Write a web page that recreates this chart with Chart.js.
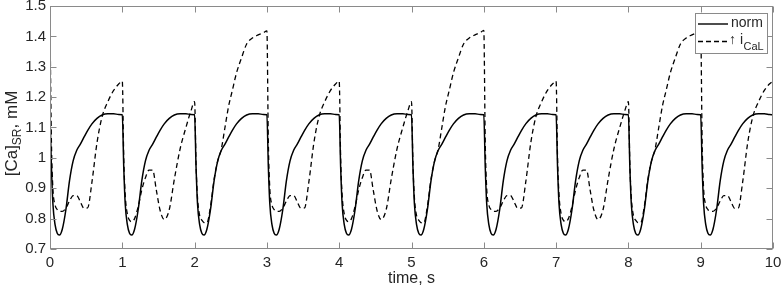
<!DOCTYPE html>
<html>
<head>
<meta charset="utf-8">
<script src="https://cdn.jsdelivr.net/npm/chart.js@4"></script>
<style>
  body { margin: 0; background: #fff; }
  #wrap { width: 782px; height: 289px; position: relative; }
</style>
</head>
<body>
<div id="wrap"><canvas id="grafik"></canvas></div>
<script>
// waktu (s), sama untuk kedua seri
const waktu = [
  0,0.02,0.04,0.07,0.1,0.13,0.17,0.22,0.27,0.32,0.37,0.42,0.47,0.52,0.58,0.65,0.72,0.8,0.88,0.95,
  1,1.02,1.04,1.07,1.1,1.13,1.17,1.22,1.27,1.32,1.37,1.42,1.47,1.52,1.58,1.65,1.72,1.8,1.88,1.95,
  2,2.02,2.04,2.07,2.1,2.13,2.17,2.22,2.27,2.32,2.37,2.42,2.47,2.52,2.58,2.65,2.72,2.8,2.88,2.95,
  3,3.02,3.04,3.07,3.1,3.13,3.17,3.22,3.27,3.32,3.37,3.42,3.47,3.52,3.58,3.65,3.72,3.8,3.88,3.95,
  4,4.02,4.04,4.07,4.1,4.13,4.17,4.22,4.27,4.32,4.37,4.42,4.47,4.52,4.58,4.65,4.72,4.8,4.88,4.95,
  5,5.02,5.04,5.07,5.1,5.13,5.17,5.22,5.27,5.32,5.37,5.42,5.47,5.52,5.58,5.65,5.72,5.8,5.88,5.95,
  6,6.02,6.04,6.07,6.1,6.13,6.17,6.22,6.27,6.32,6.37,6.42,6.47,6.52,6.58,6.65,6.72,6.8,6.88,6.95,
  7,7.02,7.04,7.07,7.1,7.13,7.17,7.22,7.27,7.32,7.37,7.42,7.47,7.52,7.58,7.65,7.72,7.8,7.88,7.95,
  8,8.02,8.04,8.07,8.1,8.13,8.17,8.22,8.27,8.32,8.37,8.42,8.47,8.52,8.58,8.65,8.72,8.8,8.88,8.95,
  9,9.02,9.04,9.07,9.1,9.13,9.17,9.22,9.27,9.32,9.37,9.42,9.47,9.52,9.58,9.65,9.72,9.8,9.88,9.95,
  10
];

// [Ca]SR normal (mM)
const caNorm = [
  1.142,0.97,0.85,0.78,0.752,0.746,0.765,0.83,0.925,0.99,1.025,1.045,1.068,1.09,1.112,1.13,1.141,1.145,1.145,1.143,
  1.142,0.97,0.85,0.78,0.752,0.746,0.765,0.83,0.925,0.99,1.025,1.045,1.068,1.09,1.112,1.13,1.141,1.145,1.145,1.143,
  1.142,0.97,0.85,0.78,0.752,0.746,0.765,0.83,0.925,0.99,1.025,1.045,1.068,1.09,1.112,1.13,1.141,1.145,1.145,1.143,
  1.142,0.97,0.85,0.78,0.752,0.746,0.765,0.83,0.925,0.99,1.025,1.045,1.068,1.09,1.112,1.13,1.141,1.145,1.145,1.143,
  1.142,0.97,0.85,0.78,0.752,0.746,0.765,0.83,0.925,0.99,1.025,1.045,1.068,1.09,1.112,1.13,1.141,1.145,1.145,1.143,
  1.142,0.97,0.85,0.78,0.752,0.746,0.765,0.83,0.925,0.99,1.025,1.045,1.068,1.09,1.112,1.13,1.141,1.145,1.145,1.143,
  1.142,0.97,0.85,0.78,0.752,0.746,0.765,0.83,0.925,0.99,1.025,1.045,1.068,1.09,1.112,1.13,1.141,1.145,1.145,1.143,
  1.142,0.97,0.85,0.78,0.752,0.746,0.765,0.83,0.925,0.99,1.025,1.045,1.068,1.09,1.112,1.13,1.141,1.145,1.145,1.143,
  1.142,0.97,0.85,0.78,0.752,0.746,0.765,0.83,0.925,0.99,1.025,1.045,1.068,1.09,1.112,1.13,1.141,1.145,1.145,1.143,
  1.142,0.97,0.85,0.78,0.752,0.746,0.765,0.83,0.925,0.99,1.025,1.045,1.068,1.09,1.112,1.13,1.141,1.145,1.145,1.143,
  1.142
];

// [Ca]SR dengan iCaL naik (mM)
const caICaL = [
  1.43,1.05,0.9,0.845,0.83,0.824,0.824,0.835,0.858,0.876,0.876,0.855,0.834,0.835,0.92,1.05,1.135,1.185,1.222,1.243,
  1.253,1.0,0.88,0.815,0.795,0.79,0.8,0.84,0.895,0.935,0.96,0.96,0.895,0.83,0.797,0.83,0.93,1.03,1.1,1.155,
  1.185,0.98,0.87,0.81,0.795,0.787,0.786,0.84,0.93,0.99,1.03,1.1,1.17,1.22,1.28,1.33,1.375,1.395,1.405,1.412,
  1.418,1.05,0.9,0.845,0.83,0.824,0.824,0.835,0.858,0.876,0.876,0.855,0.834,0.835,0.92,1.05,1.135,1.185,1.222,1.243,
  1.253,1.0,0.88,0.815,0.795,0.79,0.8,0.84,0.895,0.935,0.96,0.96,0.895,0.83,0.797,0.83,0.93,1.03,1.1,1.155,
  1.185,0.98,0.87,0.81,0.795,0.787,0.786,0.84,0.93,0.99,1.03,1.1,1.17,1.22,1.28,1.33,1.375,1.395,1.405,1.412,
  1.42,1.05,0.9,0.845,0.83,0.824,0.824,0.835,0.858,0.876,0.876,0.855,0.834,0.835,0.92,1.05,1.135,1.185,1.222,1.243,
  1.253,1.0,0.88,0.815,0.795,0.79,0.8,0.84,0.895,0.935,0.96,0.96,0.895,0.83,0.797,0.83,0.93,1.03,1.1,1.155,
  1.185,0.98,0.87,0.81,0.795,0.787,0.786,0.84,0.93,0.99,1.03,1.1,1.17,1.22,1.28,1.33,1.375,1.395,1.405,1.412,
  1.416,1.05,0.9,0.845,0.83,0.824,0.824,0.835,0.858,0.876,0.876,0.855,0.834,0.835,0.92,1.05,1.135,1.185,1.222,1.243,
  1.253
];

const xTicks = [0,1,2,3,4,5,6,7,8,9,10];
const yTicks = [0.7,0.8,0.9,1,1.1,1.2,1.3,1.4,1.5];

const FONT = "'Liberation Sans', Arial, Helvetica, sans-serif";
const WARNA_AXIS = '#8a8a8a';
const WARNA_TEKS = '#262626';

// bingkai, tick ke dalam, judul sumbu dan legend (pakai subscript)
const dekor = {
  id: 'dekor',
  afterDraw(chart) {
    const ctx = chart.ctx;
    const a = chart.chartArea;
    const sx = chart.scales.x, sy = chart.scales.y;
    const L = Math.round(a.left) + 0.5, R = Math.round(a.right) - 0.5;
    const T = Math.round(a.top) + 0.5, B = Math.round(a.bottom) - 0.5;
    ctx.save();
    ctx.strokeStyle = WARNA_AXIS;
    ctx.lineWidth = 1;
    ctx.setLineDash([]);
    ctx.strokeRect(L, T, R - L, B - T);
    ctx.beginPath();
    xTicks.forEach(v => {
      let px = Math.round(sx.getPixelForValue(v)) + 0.5;
      ctx.moveTo(px, B); ctx.lineTo(px, B - 6);
      ctx.moveTo(px, T); ctx.lineTo(px, T + 6);
    });
    yTicks.forEach(v => {
      let py = Math.round(sy.getPixelForValue(v)) + 0.5;
      ctx.moveTo(L, py); ctx.lineTo(L + 6, py);
      ctx.moveTo(R, py); ctx.lineTo(R - 6, py);
    });
    ctx.stroke();

    // judul sumbu x
    ctx.fillStyle = WARNA_TEKS;
    ctx.font = '16px ' + FONT;
    ctx.textAlign = 'center';
    ctx.textBaseline = 'middle';
    ctx.fillText('time, s', (a.left + a.right) / 2, 279);

    // judul sumbu y: [Ca]SR, mM
    ctx.save();
    ctx.translate(12, (a.top + a.bottom) / 2 + 6);
    ctx.rotate(-Math.PI / 2);
    ctx.textAlign = 'left';
    ctx.textBaseline = 'middle';
    const f1 = '17px ' + FONT, f2 = '12px ' + FONT;
    ctx.font = f1; let w1 = ctx.measureText('[Ca]').width;
    ctx.font = f2; let w2 = ctx.measureText('SR').width;
    ctx.font = f1; let w3 = ctx.measureText(', mM').width;
    let x0 = -(w1 + w2 + w3) / 2;
    ctx.font = f1; ctx.fillText('[Ca]', x0, 0);
    ctx.font = f2; ctx.fillText('SR', x0 + w1, 5.5);
    ctx.font = f1; ctx.fillText(', mM', x0 + w1 + w2, 0);
    ctx.restore();

    // legend
    const bx = 695.5, by = 13.5, bw = 72, bh = 40;
    ctx.fillStyle = '#fff';
    ctx.fillRect(bx, by, bw, bh);
    ctx.strokeStyle = WARNA_AXIS;
    ctx.lineWidth = 1;
    ctx.strokeRect(bx, by, bw, bh);
    ctx.strokeStyle = '#000';
    ctx.lineWidth = 1.4;
    ctx.beginPath(); ctx.moveTo(698, 24); ctx.lineTo(728, 24); ctx.stroke();
    ctx.setLineDash([5, 3]);
    ctx.lineWidth = 1.3;
    ctx.beginPath(); ctx.moveTo(698, 41.5); ctx.lineTo(728, 41.5); ctx.stroke();
    ctx.setLineDash([]);
    ctx.fillStyle = WARNA_TEKS;
    ctx.textAlign = 'left';
    ctx.textBaseline = 'middle';
    ctx.font = '14px ' + FONT;
    ctx.fillText('norm', 731, 23.5);
    let wi = ctx.measureText('\u2191 i').width;
    ctx.fillText('\u2191 i', 729, 40);
    ctx.font = '11px ' + FONT;
    ctx.fillText('CaL', 729 + wi + 0.5, 46.5);
    ctx.restore();
  }
};

window.onload = () => {
  const ctx = document.getElementById('grafik').getContext('2d');
  new Chart(ctx, {
    type: 'line',
    data: {
      datasets: [
        {
          label: 'norm',
          data: waktu.map((t, i) => ({ x: t, y: caNorm[i] })),
          borderColor: '#000',
          borderWidth: 1.5,
          pointRadius: 0,
          fill: false,
          cubicInterpolationMode: 'monotone'
        },
        {
          label: '\u2191 iCaL',
          data: waktu.map((t, i) => ({ x: t, y: caICaL[i] })),
          borderColor: '#000',
          borderWidth: 1.3,
          borderDash: [5, 3.5],
          pointRadius: 0,
          fill: false,
          cubicInterpolationMode: 'monotone'
        }
      ]
    },
    options: {
      responsive: true,
      maintainAspectRatio: false,
      animation: false,
      layout: { padding: { left: 0, right: 9, top: 6, bottom: 0 } },
      plugins: { legend: { display: false }, tooltip: { enabled: false } },
      scales: {
        x: {
          type: 'linear',
          min: 0, max: 10,
          grid: { display: false, drawTicks: false },
          border: { display: false },
          afterBuildTicks: s => { s.ticks = xTicks.map(v => ({ value: v })); },
          afterFit: s => { s.height = 40; s.paddingLeft = 0; s.paddingRight = 0; },
          ticks: {
            padding: 5,
            color: WARNA_TEKS,
            font: { family: FONT, size: 15 },
            maxRotation: 0,
            callback: v => String(v)
          }
        },
        y: {
          min: 0.7, max: 1.5,
          grid: { display: false, drawTicks: false },
          border: { display: false },
          afterBuildTicks: s => { s.ticks = yTicks.map(v => ({ value: v })); },
          afterFit: s => { s.width = 50; s.paddingTop = 0; s.paddingBottom = 0; },
          ticks: {
            padding: 4,
            color: WARNA_TEKS,
            font: { family: FONT, size: 15 },
            callback: v => String(parseFloat(Number(v).toFixed(1)))
          }
        }
      }
    },
    plugins: [dekor]
  });
};
</script>
</body>
</html>
